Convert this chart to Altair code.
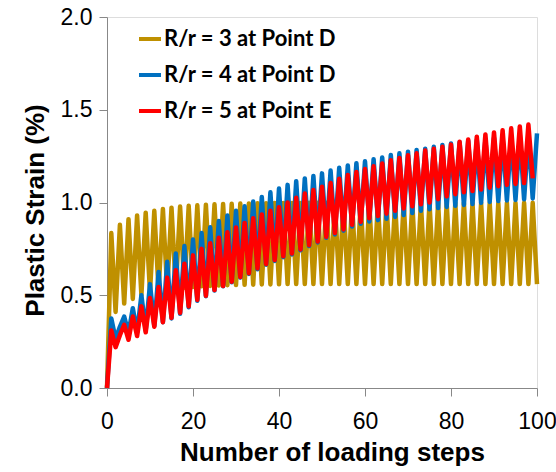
import altair as alt
import pandas as pd

steps_gold = list(range(0, 101))
gold = [0.0, 0.835, 0.41, 0.88, 0.455, 0.91, 0.48, 0.93, 0.50, 0.945,
        0.515, 0.955, 0.525, 0.965, 0.53, 0.972, 0.535, 0.978, 0.54, 0.982,
        0.545, 0.985, 0.548, 0.988, 0.55, 0.99, 0.552, 0.992, 0.554, 0.993,
        0.555, 0.994, 0.556, 0.995, 0.557, 0.996, 0.558, 0.996, 0.558, 0.997,
        0.559, 0.997, 0.56, 0.997, 0.56, 0.997, 0.56, 0.998, 0.56, 0.998,
        0.56, 0.998, 0.56, 0.998, 0.56, 0.998, 0.56, 0.998, 0.56, 0.998,
        0.56, 0.998, 0.56, 0.998, 0.56, 0.998, 0.56, 0.998, 0.56, 0.998,
        0.56, 0.998, 0.56, 0.998, 0.56, 0.998, 0.56, 0.998, 0.56, 0.998,
        0.56, 0.998, 0.56, 0.998, 0.56, 0.998, 0.56, 0.998, 0.56, 0.998,
        0.56, 0.998, 0.56, 0.998, 0.56, 0.998, 0.56, 0.998, 0.56, 0.998,
        0.56]

steps_blue = list(range(0, 101))
blue = [0.0, 0.375, 0.265, 0.33, 0.385, 0.295, 0.43, 0.30, 0.50, 0.31,
        0.56, 0.335, 0.625, 0.355, 0.68, 0.375, 0.725, 0.40, 0.765, 0.435,
        0.80, 0.47, 0.835, 0.495, 0.866, 0.525, 0.90, 0.548, 0.93, 0.57,
        0.955, 0.595, 0.98, 0.615, 1.005, 0.64, 1.03, 0.665, 1.055, 0.685,
        1.075, 0.705, 1.095, 0.72, 1.115, 0.742, 1.13, 0.765, 1.143, 0.785,
        1.157, 0.81, 1.172, 0.828, 1.187, 0.848, 1.20, 0.87, 1.212, 0.885,
        1.222, 0.897, 1.233, 0.905, 1.243, 0.912, 1.256, 0.922, 1.265, 0.932,
        1.274, 0.943, 1.283, 0.955, 1.29, 0.963, 1.30, 0.97, 1.31, 0.976,
        1.318, 0.982, 1.325, 0.987, 1.332, 0.992, 1.338, 0.998, 1.343, 1.003,
        1.348, 1.008, 1.352, 1.011, 1.357, 1.014, 1.362, 1.017, 1.367, 1.022,
        1.373]

steps_red = list(range(0, 100))
red = [0.0, 0.31, 0.22, 0.285, 0.34, 0.26, 0.385, 0.28, 0.44, 0.30,
       0.485, 0.33, 0.545, 0.355, 0.595, 0.378, 0.635, 0.405, 0.67, 0.44,
       0.715, 0.475, 0.75, 0.497, 0.78, 0.528, 0.81, 0.55, 0.84, 0.573,
       0.865, 0.598, 0.89, 0.618, 0.915, 0.645, 0.935, 0.668, 0.955, 0.69,
       0.975, 0.71, 1.0, 0.725, 1.025, 0.747, 1.048, 0.77, 1.067, 0.79,
       1.085, 0.815, 1.105, 0.835, 1.128, 0.855, 1.148, 0.88, 1.165, 0.896,
       1.18, 0.915, 1.195, 0.927, 1.21, 0.94, 1.228, 0.955, 1.24, 0.968,
       1.255, 0.98, 1.265, 0.99, 1.28, 1.0, 1.29, 1.018, 1.30, 1.033,
       1.312, 1.045, 1.327, 1.055, 1.34, 1.062, 1.355, 1.07, 1.367, 1.08,
       1.378, 1.088, 1.39, 1.095, 1.40, 1.10, 1.41, 1.105, 1.42, 1.13]

series_names = ["R/r = 3 at Point D", "R/r = 4 at Point D", "R/r = 5 at Point E"]
series_colors = ["#BF9000", "#0070C0", "#FF0000"]
x_ticks = [0, 20, 40, 60, 80, 100]
y_ticks = [0.0, 0.5, 1.0, 1.5, 2.0]

frames = []
for name, xs, ys in zip(series_names, [steps_gold, steps_blue, steps_red], [gold, blue, red]):
    frames.append(pd.DataFrame({"step": xs, "strain": ys, "series": name}))
df = pd.concat(frames, ignore_index=True)

FONT = "Lato"
color_scale = alt.Scale(domain=series_names, range=series_colors)

x_enc = alt.X("step:Q", scale=alt.Scale(domain=[0, 100], nice=False),
              axis=alt.Axis(values=x_ticks, title="Number of loading steps", grid=False,
                            tickSize=8, labelPadding=14, titlePadding=6, titleX=225,
                            labelFontSize=23, titleFontSize=26, labelOverlap=False,
                            labelBound=False, labelFlush=False))
y_enc = alt.Y("strain:Q", scale=alt.Scale(domain=[0, 2.0], nice=False),
              axis=alt.Axis(values=y_ticks, format=".1f", title="Plastic Strain (%)", grid=False,
                            tickSize=8, labelPadding=7, titlePadding=12, titleY=193,
                            labelFontSize=23, titleFontSize=26, labelOverlap=False))

legend = alt.Legend(title=None, orient="none", legendX=30, legendY=9,
                    symbolType="stroke", symbolSize=484, symbolStrokeWidth=4,
                    labelFontSize=22, labelFont=FONT, labelFontWeight="bold",
                    labelColor="#000000", rowPadding=12, labelOffset=1, padding=0,
                    labelLimit=400)

layers = []
for i, name in enumerate(series_names):
    color = alt.Color("series:N", scale=color_scale, legend=legend if i == 0 else None)
    layers.append(
        alt.Chart(df).transform_filter(alt.datum.series == name)
        .mark_line(strokeWidth=4.5, strokeJoin="round", strokeCap="butt")
        .encode(x=x_enc, y=y_enc, color=color)
    )

chart = alt.layer(*layers).properties(
    width=430, height=371,
    autosize=alt.AutoSizeParams(type="none"),
    padding={"left": 107, "top": 17, "right": 19, "bottom": 84},
).configure_view(stroke=None).configure_axis(
    domainColor="#D9D9D9", tickColor="#D9D9D9", domainWidth=1.2, tickWidth=1.2,
    labelFont=FONT, titleFont=FONT, labelFontWeight="bold", titleFontWeight="bold",
    labelColor="#000000", titleColor="#000000",
).configure(background="white")

chart.save("out.html", embed_options={"renderer": "svg", "actions": False})
